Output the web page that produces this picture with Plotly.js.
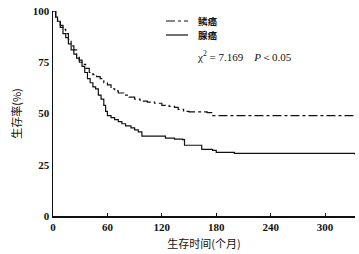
<!DOCTYPE html>
<html><head><meta charset="utf-8">
<script src="https://cdn.plot.ly/plotly-3.0.1.min.js"></script>
<style>body{margin:0;background:#fff}#c{width:359px;height:254px}</style>
</head><body><div id="c"></div>
<script>
const seriesNames = ["鳞癌", "腺癌"];
const squamousMonths = [0,2,3,5,8,11,14,17,20,23,26,29,32,36,40,44,48,52,56,60,64,68,72,78,84,90,96,104,112,120,128,134,138,144,150,170,176,333];
const squamousSurv   = [100,100,97,95,93,91,89,86,83,81,78,76,74,72,70,69,68,67,65,64,62,61,60,59,58,57,56,55.5,55,54,53.5,53,52,51,50.8,50.4,49,48.3];
const adenoMonths = [0,2,3,5,8,11,14,17,20,23,26,29,32,35,38,41,44,47,50,53,56,58,60,64,68,72,76,80,86,90,94,98,120,124,134,143,145,158,164,176,180,200,333];
const adenoSurv   = [100,100,97,95,92,89,87,84,81,79,77,75,73,70,67,65,63,62,59,57,54,51,49,48,47,46,45,44,43,42,41,39,39,38,37.5,37.3,34.5,34.5,32.5,32,31,30.5,30];
const xTicks = [0,60,120,180,240,300];
const yTicks = [0,25,50,75,100];
const statText = "χ<sup>2</sup> = 7.169    <i>P</i>＜0.05";

const serif = "Liberation Serif, Times New Roman, serif";
const cjk = "Noto Sans CJK SC, sans-serif";
const px = v => (v - 53) / 302, py = v => (216 - v) / 205;

const traces = [
  {x: squamousMonths, y: squamousSurv, mode: 'lines', line: {shape: 'hv', color: '#111', width: 1.2, dash: 'dashdot'}, name: seriesNames[0]},
  {x: adenoMonths, y: adenoSurv, mode: 'lines', line: {shape: 'hv', color: '#111', width: 1.2}, name: seriesNames[1]}
];
const layout = {
  width: 359, height: 254,
  margin: {l: 53, r: 4, t: 11, b: 38},
  showlegend: false,
  paper_bgcolor: '#fff', plot_bgcolor: '#fff',
  xaxis: {range: [0, 333], tickvals: xTicks, showgrid: false, zeroline: false,
    showline: true, linecolor: '#111', linewidth: 1.5, ticks: 'inside', ticklen: 3, tickcolor: '#111',
    tickfont: {family: serif, size: 11, color: '#111', weight: 'bold'},
    title: {text: '生存时间(个月)', font: {family: cjk, size: 11, color: '#111'}, standoff: 8}},
  yaxis: {range: [0, 100], tickvals: yTicks, showgrid: false, zeroline: false,
    showline: true, linecolor: '#111', linewidth: 1.5, ticks: '',
    tickfont: {family: serif, size: 11, color: '#111', weight: 'bold'},
    title: {text: '生存率(%)', font: {family: cjk, size: 11, color: '#111'}, standoff: 9}},
  shapes: [
    {type: 'line', xref: 'paper', yref: 'paper', x0: px(166), x1: px(188), y0: py(21), y1: py(21), line: {color: '#111', width: 1.2, dash: 'dashdot'}},
    {type: 'line', xref: 'paper', yref: 'paper', x0: px(166), x1: px(188), y0: py(35), y1: py(35), line: {color: '#111', width: 1.2}}
  ],
  annotations: [
    {xref: 'paper', yref: 'paper', x: px(196), y: py(21), xanchor: 'left', yanchor: 'middle', showarrow: false, text: seriesNames[0], font: {family: cjk, size: 9.5, color: '#111', weight: 'bold'}},
    {xref: 'paper', yref: 'paper', x: px(196), y: py(35), xanchor: 'left', yanchor: 'middle', showarrow: false, text: seriesNames[1], font: {family: cjk, size: 9.5, color: '#111', weight: 'bold'}},
    {xref: 'paper', yref: 'paper', x: px(195), y: py(56), xanchor: 'left', yanchor: 'middle', showarrow: false, text: statText, font: {family: serif, size: 11, color: '#111'}}
  ]
};
Plotly.newPlot('c', traces, layout, {staticPlot: true, displayModeBar: false});
</script></body></html>
